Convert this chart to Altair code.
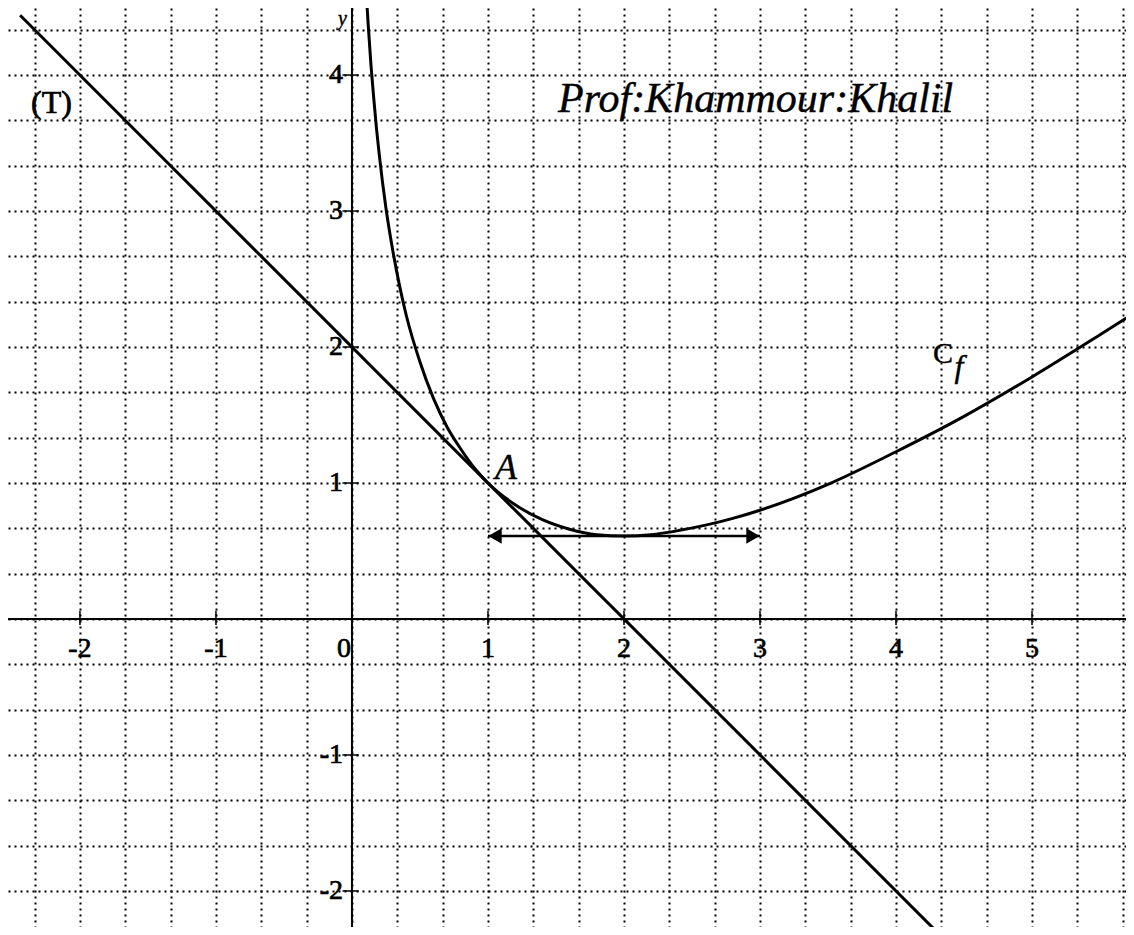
import altair as alt
import pandas as pd

# ---- data ----
# curve C_f
cf_x = [0.11, 0.12, 0.14, 0.16, 0.18, 0.20, 0.25, 0.30, 0.35, 0.40, 0.50, 0.60, 0.70,
        0.80, 0.90, 1.00, 1.20, 1.40, 1.60, 1.80, 2.00, 2.20, 2.40, 2.60, 2.80, 3.00,
        3.50, 4.00, 4.50, 5.00, 5.50, 5.80]
cf_y = [4.52, 4.36, 4.07, 3.83, 3.61, 3.42, 3.02, 2.71, 2.45, 2.23, 1.89, 1.62, 1.41,
        1.25, 1.11, 1.00, 0.84, 0.73, 0.66, 0.62, 0.61, 0.62, 0.65, 0.69, 0.74, 0.80,
        0.99, 1.23, 1.49, 1.78, 2.09, 2.28]

# tangent line (T)
t_x = [-2.44, 4.80]
t_y = [4.44, -2.80]

# horizontal double arrow
arrow_x = [1.0, 3.0]
arrow_y = [0.61, 0.61]

# axis ticks / labels
x_ticks = [-2, -1, 1, 2, 3, 4, 5]
x_tick_labels = ["-2", "-1", "1", "2", "3", "4", "5"]
y_ticks = [-2, -1, 1, 2, 3, 4]
y_tick_labels = ["-2", "-1", "1", "2", "3", "4"]
grid_x = [k / 3 for k in range(-7, 18)]
grid_y = [k / 3 for k in range(-6, 14)]

# annotations
ann_text = ["(T)", "Prof:Khammour:Khalil", "A", "C", "f", "y"]
ann_x = [-2.36, 1.515, 1.051, 4.272, 4.43, -0.103]
ann_y = [3.72, 3.728, 1.029, 1.882, 1.78, 4.37]

X_DOM = [-2.529, 5.691]
Y_DOM = [-2.265, 4.493]

XS = alt.Scale(domain=X_DOM, nice=False, zero=False)
YS = alt.Scale(domain=Y_DOM, nice=False, zero=False)
XA = alt.Axis(values=grid_x, grid=True, gridDash=[2, 4], gridColor="black",
              gridWidth=2, gridOpacity=1, labels=False, ticks=False, domain=False, title=None)
YA = alt.Axis(values=grid_y, grid=True, gridDash=[2, 4], gridColor="black",
              gridWidth=2, gridOpacity=1, labels=False, ticks=False, domain=False, title=None)


def X(f="x"):
    return alt.X(f"{f}:Q", scale=XS, axis=XA)


def Y(f="y"):
    return alt.Y(f"{f}:Q", scale=YS, axis=YA)


FONT = "Liberation Serif, Times New Roman, serif"
TSTROKE = dict(stroke="black", strokeWidth=0.7)

# axis lines
axes_df = pd.DataFrame({"x": [X_DOM[0], 0.0], "x2": [X_DOM[1], 0.0],
                        "y": [0.0, Y_DOM[0]], "y2": [0.0, Y_DOM[1]]})
axes = alt.Chart(axes_df).mark_rule(color="black", strokeWidth=2).encode(
    x=X(), x2="x2:Q", y=Y(), y2="y2:Q")

# tick marks
xt_df = pd.DataFrame({"x": x_ticks, "y": [-0.045] * len(x_ticks), "y2": [0.06] * len(x_ticks)})
xt = alt.Chart(xt_df).mark_rule(color="black", strokeWidth=1.5).encode(
    x=X(), y=Y(), y2="y2:Q")
yt_df = pd.DataFrame({"y": y_ticks, "x": [-0.07] * len(y_ticks), "x2": [0.05] * len(y_ticks)})
yt = alt.Chart(yt_df).mark_rule(color="black", strokeWidth=1.5).encode(
    x=X(), x2="x2:Q", y=Y())

# tick labels
xl_df = pd.DataFrame({"x": x_ticks, "y": [0.0] * len(x_ticks), "t": x_tick_labels})
xl = alt.Chart(xl_df).mark_text(font=FONT, fontSize=28, baseline="alphabetic",
                                 align="center", dy=38, color="black", **TSTROKE).encode(
    x=X(), y=Y(), text="t:N")
zl_df = pd.DataFrame({"x": [0.0], "y": [0.0], "t": ["0"]})
zl = alt.Chart(zl_df).mark_text(font=FONT, fontSize=28, baseline="alphabetic",
                                 align="right", dx=-1, dy=38, color="black", **TSTROKE).encode(
    x=X(), y=Y(), text="t:N")
yl_df = pd.DataFrame({"x": [0.0] * len(y_ticks), "y": y_ticks, "t": y_tick_labels})
yl = alt.Chart(yl_df).mark_text(font=FONT, fontSize=28, baseline="middle",
                                 align="right", dx=-9, dy=0, color="black", **TSTROKE).encode(
    x=X(), y=Y(), text="t:N")

# tangent
t_df = pd.DataFrame({"x": t_x, "y": t_y})
tline = alt.Chart(t_df).mark_line(color="black", strokeWidth=3, clip=True).encode(
    x=X(), y=Y())

# curve
cf_df = pd.DataFrame({"x": cf_x, "y": cf_y})
curve = alt.Chart(cf_df).mark_line(color="black", strokeWidth=3, clip=True,
                                   interpolate="monotone").encode(x=X(), y=Y())

# arrow
ar_df = pd.DataFrame({"x": arrow_x, "y": arrow_y})
ar_line = alt.Chart(ar_df).mark_line(color="black", strokeWidth=2.5).encode(x=X(), y=Y())
ah_l = alt.Chart(ar_df.iloc[[0]]).mark_point(shape="triangle-left", size=240, filled=True,
                                             color="black", opacity=1, xOffset=7).encode(
    x=X(), y=Y())
ah_r = alt.Chart(ar_df.iloc[[1]]).mark_point(shape="triangle-right", size=240, filled=True,
                                             color="black", opacity=1, xOffset=-7).encode(
    x=X(), y=Y())

ann_df = pd.DataFrame({"x": ann_x, "y": ann_y, "t": ann_text})


def ann(i, size, style="normal", sw=0.4):
    return alt.Chart(ann_df.iloc[[i]]).mark_text(
        font=FONT, fontSize=size, fontStyle=style, align="left",
        baseline="alphabetic", color="black", stroke="black", strokeWidth=sw).encode(
        x=X(), y=Y(), text="t:N")


texts = [ann(0, 32, sw=0.7), ann(1, 42, "italic"), ann(2, 36, "italic"), ann(3, 30),
         ann(4, 32, "italic"), ann(5, 20, "italic")]

chart = alt.layer(axes, xt, yt, xl, zl, yl, tline, curve, ar_line, ah_l, ah_r, *texts).properties(
    width=1118, height=919,
    autosize=alt.AutoSizeParams(type="none"),
    padding=0,
    background="white",
).configure_view(stroke=None)

chart.save("out.html", embed_options={"renderer": "svg", "actions": False})
